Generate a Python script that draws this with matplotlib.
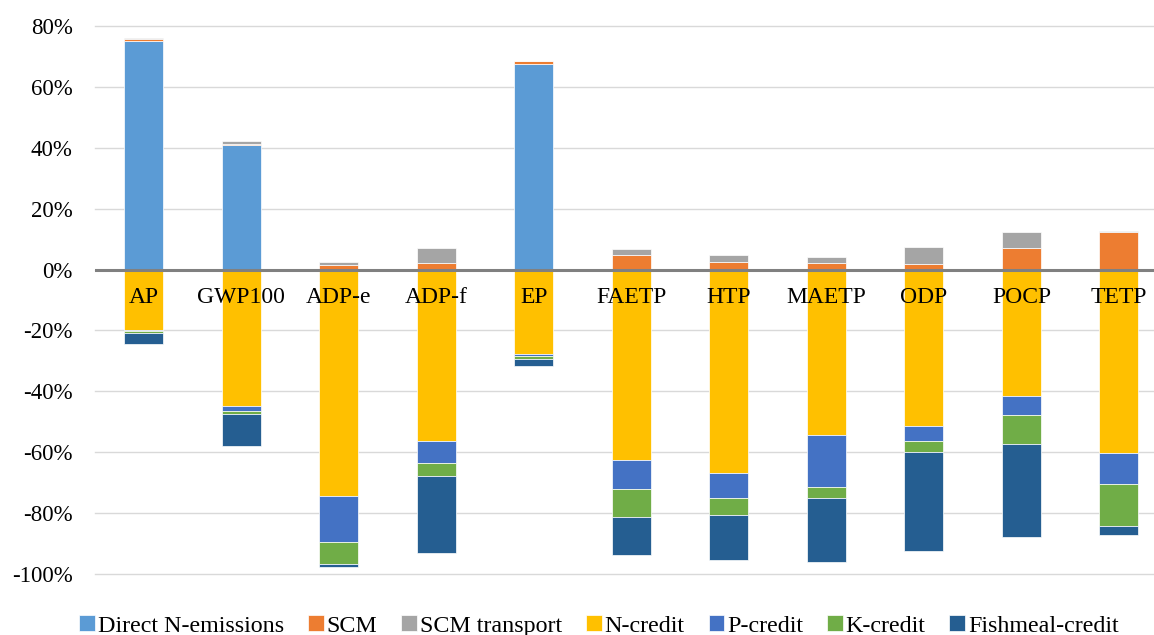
import matplotlib
matplotlib.use("Agg")
import matplotlib.pyplot as plt
import numpy as np
from matplotlib.ticker import FuncFormatter

categories = ["AP", "GWP100", "ADP-e", "ADP-f", "EP", "FAETP", "HTP", "MAETP", "ODP", "POCP", "TETP"]

direct_n = [75.1, 40.9, 0.0, 0.0, 67.5, 0.0, 0.0, 0.0, 0.0, 0.0, 0.0]
scm = [0.4, 0.3, 1.4, 2.2, 0.8, 4.7, 2.5, 2.1, 1.8, 7.2, 12.3]
scm_transport = [0.4, 0.85, 1.0, 4.7, 0.1, 1.9, 2.3, 1.9, 5.6, 5.0, 0.4]
n_credit = [-19.9, -44.9, -74.3, -56.1, -27.7, -62.6, -66.8, -54.4, -51.3, -41.6, -60.3]
p_credit = [-0.4, -1.6, -15.1, -7.5, -0.6, -9.4, -8.2, -17.1, -5.0, -6.1, -10.0]
k_credit = [-0.6, -0.9, -7.2, -4.1, -1.0, -9.1, -5.5, -3.4, -3.6, -9.6, -14.0]
fishmeal_credit = [-3.6, -10.5, -1.0, -25.4, -2.4, -12.5, -14.8, -21.1, -32.6, -30.6, -2.9]

series_names = ["Direct N-emissions", "SCM", "SCM transport", "N-credit", "P-credit", "K-credit", "Fishmeal-credit"]
colors = ["#5B9BD5", "#ED7D31", "#A5A5A5", "#FFC000", "#4472C4", "#70AD47", "#255E91"]

plt.rcParams['font.family'] = ['Liberation Serif', 'DejaVu Serif']

W, H = 1154, 635
fig = plt.figure(figsize=(W / 100, H / 100), dpi=100)
ax = fig.add_axes([95 / W, (H - 574.3) / H, (W - 95) / W, 548.6 / H])

x = np.arange(len(categories))
width = 0.4

pos_series = [direct_n, scm, scm_transport]
neg_series = [n_credit, p_credit, k_credit, fishmeal_credit]

handles = []
bottom = np.zeros(len(categories))
for vals, col, name in zip(pos_series, colors[:3], series_names[:3]):
    v = np.array(vals)
    b = ax.bar(x, v, width, bottom=bottom, color=col, edgecolor="white", linewidth=0.5, label=name, zorder=2)
    handles.append(b)
    bottom += v

bottom = np.zeros(len(categories))
for vals, col, name in zip(neg_series, colors[3:], series_names[3:]):
    v = np.array(vals)
    b = ax.bar(x, v, width, bottom=bottom, color=col, edgecolor="white", linewidth=0.5, label=name, zorder=2)
    handles.append(b)
    bottom += v

ax.axhline(0, color="#808080", linewidth=2.2, zorder=3)

ax.set_ylim(-100, 80)
ax.set_xlim(-0.5, 10.5 - 13.75 / 97.5)
ax.set_yticks(np.arange(-100, 81, 20))
ax.yaxis.set_major_formatter(FuncFormatter(lambda v, p: f"{int(round(v))}%"))
ax.grid(axis="y", color="#D9D9D9", linewidth=1.0, zorder=0)
for gl in ax.get_ygridlines():
    gl.set_clip_on(False)
ax.set_axisbelow(True)
ax.set_xticks([])
ax.tick_params(axis="y", length=0, labelsize=16.5, pad=16)
for s in ax.spines.values():
    s.set_visible(False)

for i, c in enumerate(categories):
    ax.text(i, -9.3, c, ha="center", va="center", fontsize=17, zorder=4)

fig.legend(handles=handles, labels=series_names, loc="center", ncol=7,
           bbox_to_anchor=(599 / W, 1 - 626 / H), frameon=False, fontsize=17.3,
           handlelength=0.65, handleheight=0.65, handletextpad=0.12, columnspacing=1.0,
           borderaxespad=0)

fig.savefig("out.png", dpi=100)
